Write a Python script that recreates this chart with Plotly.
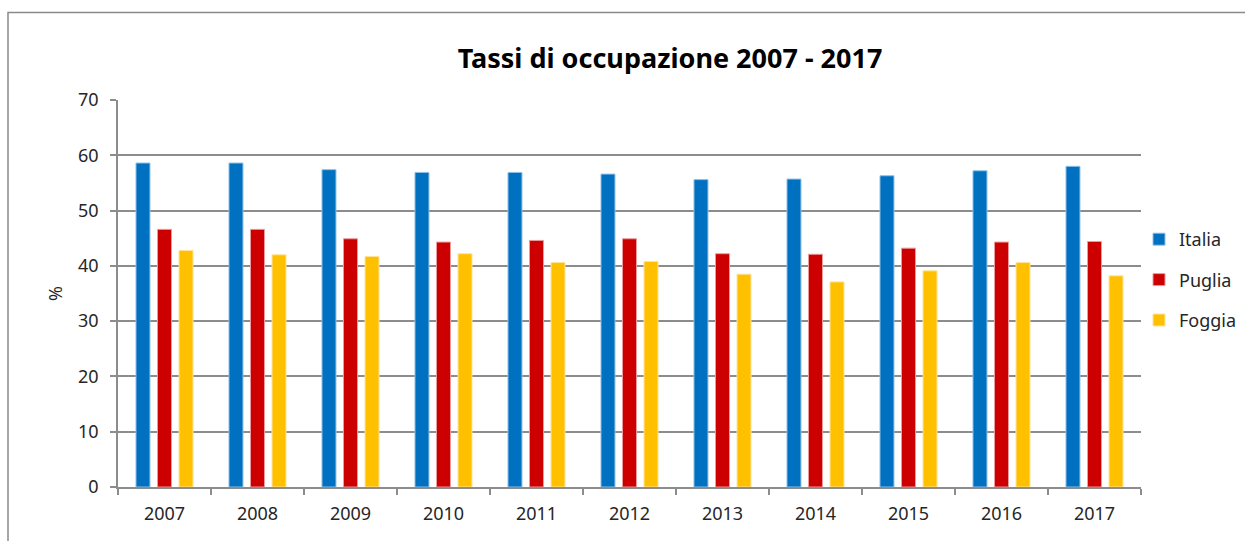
import plotly.graph_objects as go

# Employment rates (%) by year
years = ["2007", "2008", "2009", "2010", "2011", "2012", "2013", "2014", "2015", "2016", "2017"]
italia = [58.6, 58.6, 57.4, 56.9, 56.9, 56.6, 55.6, 55.7, 56.3, 57.2, 58.0]
puglia = [46.6, 46.6, 44.9, 44.3, 44.6, 44.9, 42.2, 42.1, 43.2, 44.3, 44.4]
foggia = [42.8, 42.0, 41.7, 42.2, 40.6, 40.8, 38.5, 37.1, 39.1, 40.6, 38.2]

series = [
    ("Italia", italia, "#0070C0", "#8fc0e8"),
    ("Puglia", puglia, "#CC0000", "#ec9a9a"),
    ("Foggia", foggia, "#FFC000", "#ffe39a"),
]

FONT = "Noto Sans"
GRID = "#8c8c8c"
TXT = "#262626"

fig = go.Figure()
for name, vals, color, edge in series:
    fig.add_trace(go.Bar(
        x=years, y=vals, name=name, legendgroup=name,
        marker=dict(color=color, line=dict(color=edge, width=1)),
    ))

# plot area spans x 118..1141 px and y 100..487 px
L, R, T, B = 118, 104, 100, 54
W, H = 1245, 541
pw, ph = W - L - R, H - T - B

fig.update_layout(
    width=W, height=H,
    margin=dict(l=L, r=R, t=T, b=B, autoexpand=False),
    paper_bgcolor="white", plot_bgcolor="white",
    barmode="group", bargap=0.306, bargroupgap=0.35,
    font=dict(family=FONT, size=18, color=TXT),
    title=dict(
        text="<b>Tassi di occupazione 2007 - 2017</b>",
        x=(670 - L) / pw, xref="paper", xanchor="center",
        y=1 - 59 / H, yanchor="middle",
        font=dict(family=FONT, size=27, color="black"),
    ),
    legend=dict(
        x=(1139 - L) / pw, xanchor="left",
        y=(H - B - 280) / ph, yanchor="middle",
        font=dict(family=FONT, size=18, color=TXT),
        tracegroupgap=14, itemwidth=30,
        bgcolor="rgba(0,0,0,0)",
    ),
    showlegend=True,
)

fig.update_xaxes(
    type="category", tickson="boundaries",
    showline=True, linecolor=GRID, linewidth=1.5,
    ticks="outside", ticklen=6, tickcolor=GRID, tickwidth=1.5,
    showgrid=False, ticklabelstandoff=10,
    tickfont=dict(family=FONT, size=18, color=TXT),
)
fig.update_yaxes(
    range=[0, 70], dtick=10,
    showline=True, linecolor=GRID, linewidth=1.5,
    ticks="outside", ticklen=6, tickcolor=GRID, tickwidth=1.5,
    showgrid=True, gridcolor=GRID, gridwidth=1.5,
    zeroline=False, ticklabelstandoff=8,
    tickfont=dict(family=FONT, size=18, color=TXT),
    title=dict(text="%", standoff=11, font=dict(family=FONT, size=18, color=TXT)),
)

# chart frame
fig.add_shape(
    type="rect", xref="paper", yref="paper",
    x0=(8 - L) / pw, x1=(W + 20 - L) / pw,
    y0=-(B + 20) / ph, y1=(H - B - 12.5) / ph,
    line=dict(color="#8a8a8a", width=1.5), fillcolor="rgba(0,0,0,0)",
    layer="below",
)

fig.write_html("out.html")
